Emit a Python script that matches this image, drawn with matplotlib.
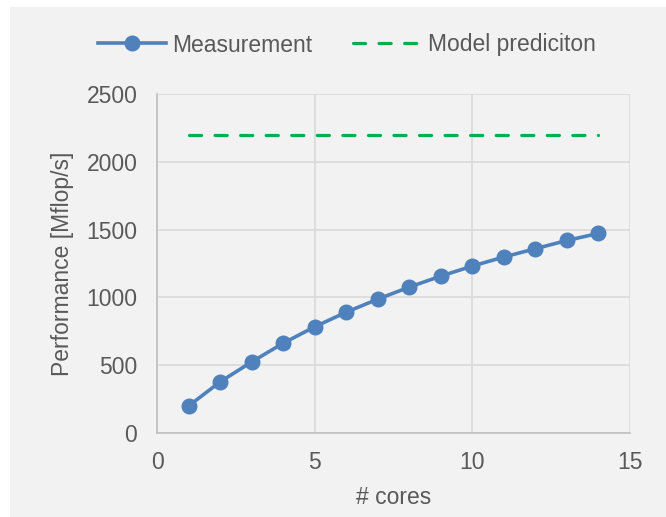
import numpy as np
import matplotlib
matplotlib.use("Agg")
import matplotlib.pyplot as plt
from matplotlib.patches import Rectangle

# data
cores = [1, 2, 3, 4, 5, 6, 7, 8, 9, 10, 11, 12, 13, 14]
measured = [199, 377, 524, 662, 783, 891, 987, 1076, 1157, 1231, 1298, 1359, 1420, 1472]
model = [2200] * len(cores)
xticks = [0, 5, 10, 15]
yticks = [0, 500, 1000, 1500, 2000, 2500]

TXT = "#595959"
BG = "#F2F2F2"
plt.rcParams["font.family"] = ["Liberation Sans", "DejaVu Sans"]
plt.rcParams["font.size"] = 16.5

fig = plt.figure(figsize=(6.66, 5.17), dpi=100)
fig.patch.set_facecolor("white")
fig.add_artist(Rectangle((10 / 666, 0), 1 - 10 / 666, 1 - 7 / 517,
                         transform=fig.transFigure, facecolor=BG,
                         edgecolor="none", zorder=-10))

ax = fig.add_axes([157 / 666, 1 - 433 / 517, (630 - 157) / 666, (433 - 94) / 517])
ax.set_facecolor(BG)

ax.plot(cores, measured, color="#4F81BD", lw=2.6, marker="o", ms=10.5,
        mfc="#4F81BD", mec="#4F81BD", label="Measurement", zorder=3)
ax.plot(cores, model, color="#00B050", lw=2.3, dashes=(3.8, 4.2),
        dash_capstyle="round", label="Model prediciton", zorder=3)

ax.set_xlim(0, 15); ax.set_ylim(0, 2500)
ax.set_xticks(xticks); ax.set_yticks(yticks)
ax.grid(True, color="#D9D9D9", lw=1.2)
ax.set_axisbelow(True)
for s in ("top", "right"):
    ax.spines[s].set_visible(False)
for s in ("left", "bottom"):
    ax.spines[s].set_color("#BFBFBF"); ax.spines[s].set_linewidth(1.2)
ax.tick_params(axis="both", length=0, colors=TXT, labelsize=16.5)
ax.tick_params(axis="x", pad=12.7)
ax.tick_params(axis="y", pad=14.2)

ax.set_xlabel("# cores", color=TXT, fontsize=16.5)
ax.xaxis.set_label_coords(0.5, (433 - 497) / 339)
ax.xaxis.label.set_va("center")
ax.set_ylabel("Performance [Mflop/s]", color=TXT, fontsize=16.5)
ax.yaxis.set_label_coords((62 - 157) / 473, 0.5)
ax.yaxis.label.set_va("center")

leg = fig.legend(loc="center", bbox_to_anchor=(346.5 / 666, 1 - 45 / 517), ncol=2,
                 frameon=False, handlelength=3.0, handletextpad=0.27,
                 columnspacing=1.75, fontsize=16.5, borderpad=0)
for t in leg.get_texts():
    t.set_color(TXT)

fig.savefig("out.png", dpi=100, facecolor=fig.get_facecolor())
